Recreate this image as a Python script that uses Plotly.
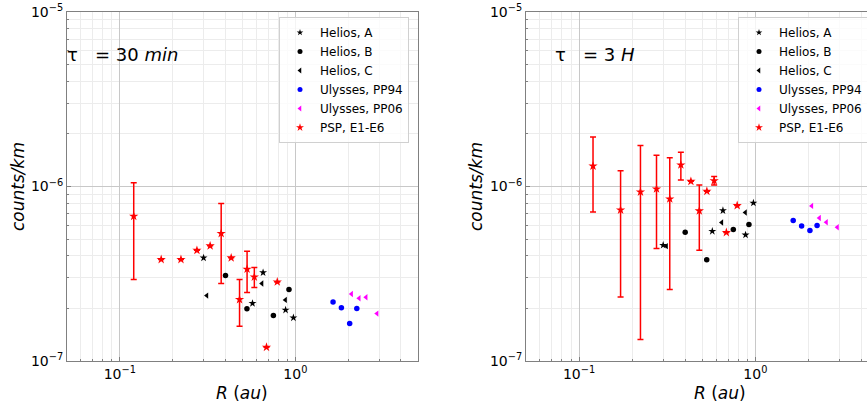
import math
import plotly.graph_objects as go

# ---------------- data ----------------
psp_r = [0.120, 0.172, 0.223, 0.275, 0.327, 0.378, 0.431, 0.481, 0.531, 0.584, 0.789, 0.685]

# tau = 30 min
psp30 = [6.76e-7, 3.82e-7, 3.82e-7, 4.31e-7, 4.57e-7, 5.38e-7, 3.90e-7, 2.25e-7, 3.36e-7, 3.03e-7, 2.84e-7, 1.20e-7]
psp30_hi = [1.05e-6, 3.82e-7, 3.82e-7, 4.31e-7, 4.57e-7, 7.99e-7, 3.90e-7, 2.93e-7, 4.26e-7, 3.43e-7, 2.84e-7, 1.20e-7]
psp30_lo = [2.93e-7, 3.82e-7, 3.82e-7, 4.31e-7, 4.57e-7, 2.78e-7, 3.90e-7, 1.58e-7, 2.47e-7, 2.64e-7, 2.84e-7, 1.20e-7]

helA_r = [0.30, 0.57, 0.655, 0.88, 0.975]
helA30 = [3.90e-7, 2.14e-7, 3.21e-7, 1.96e-7, 1.77e-7]
helB_r = [0.40, 0.53, 0.75, 0.92]
helB30 = [3.09e-7, 1.99e-7, 1.82e-7, 2.57e-7]
helC_r = [0.313, 0.645, 0.878]
helC30 = [2.37e-7, 2.78e-7, 2.24e-7]
uly94_r = [1.64, 1.83, 2.04, 2.24]
uly94_30 = [2.18e-7, 2.02e-7, 1.64e-7, 2.00e-7]
uly06_r = [2.09, 2.31, 2.53, 2.92]
uly06_30 = [2.42e-7, 2.29e-7, 2.32e-7, 1.87e-7]

# tau = 3 H
psp3h = [1.31e-6, 7.34e-7, 9.31e-7, 9.69e-7, 8.49e-7, 1.33e-6, 1.07e-6, 7.25e-7, 9.40e-7, 1.08e-6, 7.78e-7, 5.45e-7]
psp3h_hi = [1.92e-6, 1.23e-6, 1.72e-6, 1.51e-6, 1.46e-6, 1.57e-6, 1.07e-6, 1.02e-6, 9.40e-7, 1.14e-6, 7.78e-7, 5.45e-7]
psp3h_lo = [7.15e-7, 2.33e-7, 1.33e-7, 4.41e-7, 2.57e-7, 1.09e-6, 1.07e-6, 4.31e-7, 9.40e-7, 1.02e-6, 7.78e-7, 5.45e-7]
helA3h = [4.61e-7, 5.54e-7, 7.28e-7, 5.28e-7, 8.05e-7]
helB3h = [5.47e-7, 3.80e-7, 5.67e-7, 6.05e-7]
helC3h = [4.55e-7, 6.22e-7, 7.10e-7]
uly94_3h = [6.38e-7, 5.94e-7, 5.60e-7, 5.98e-7]
uly06_3h = [7.74e-7, 6.60e-7, 6.24e-7, 5.84e-7]

x_tickvals = [0.1, 1]
x_ticktext = ["10<sup>−1</sup>", "10<sup>0</sup>"]
y_tickvals = [1e-7, 1e-6, 1e-5]
y_ticktext = ["10<sup>−7</sup>", "10<sup>−6</sup>", "10<sup>−5</sup>"]

W, H = 867, 405
FONT = "DejaVu Sans"
FRAME = "#808080"

series_style = [
    ("Helios, A", "star", "black", 6),
    ("Helios, B", "circle", "black", 5.5),
    ("Helios, C", "triangle-left", "black", 5.5),
    ("Ulysses, PP94", "circle", "blue", 5.5),
    ("Ulysses, PP06", "triangle-left", "magenta", 5.5),
    ("PSP, E1-E6", "star", "red", 7),
]

fig = go.Figure()

def add_panel(xa, ya, leg, psp, hi, lo, a, b, c, u94, u06):
    xs = [helA_r, helB_r, helC_r, uly94_r, uly06_r]
    ys = [a, b, c, u94, u06]
    for (name, sym, col, sz), xv, yv in zip(series_style[:5], xs, ys):
        fig.add_trace(go.Scatter(x=xv, y=yv, name=name, mode="markers", xaxis=xa, yaxis=ya,
                                 showlegend=False, marker=dict(symbol=sym, color=col, size=sz)))
    eplus = [h - v for h, v in zip(hi, psp)]
    eminus = [v - l for l, v in zip(lo, psp)]
    name, sym, col, sz = series_style[5]
    fig.add_trace(go.Scatter(x=psp_r, y=psp, name=name, mode="markers", xaxis=xa, yaxis=ya,
                             showlegend=False, marker=dict(symbol=sym, color=col, size=sz),
                             error_y=dict(type="data", symmetric=False, array=eplus, arrayminus=eminus,
                                          color="red", thickness=1.5, width=3)))
    # legend entries (small markers as in the reference legend)
    for name, sym, col, sz in series_style:
        fig.add_trace(go.Scatter(x=[None], y=[None], name=name, mode="markers", xaxis=xa, yaxis=ya,
                                 legend=leg, showlegend=True,
                                 marker=dict(symbol=sym, color=col, size=5 if name != "PSP, E1-E6" else 6)))

add_panel("x", "y", "legend", psp30, psp30_hi, psp30_lo, helA30, helB30, helC30, uly94_30, uly06_30)
add_panel("x2", "y2", "legend2", psp3h, psp3h_hi, psp3h_lo, helA3h, helB3h, helC3h, uly94_3h, uly06_3h)

def axis_common():
    return dict(type="log", ticks="inside", ticklen=4, tickcolor=FRAME,
                showline=True, linecolor=FRAME, linewidth=1, automargin=False,
                showgrid=True, gridcolor="#c8c8c8", gridwidth=1, zeroline=False,
                tickfont=dict(family=FONT, size=14, color="black"),
                minor=dict(dtick="D1", showgrid=True, gridcolor="#ececec", ticks="inside",
                           ticklen=2, tickcolor=FRAME))

def xaxis(domain, rng, anchor):
    d = axis_common()
    d.update(domain=domain, range=[math.log10(rng[0]), math.log10(rng[1])], anchor=anchor,
             tickvals=x_tickvals, ticktext=x_ticktext, mirror=True)
    return d

def yaxis(domain, anchor, mirror):
    d = axis_common()
    d.update(domain=domain, range=[-7, -5], anchor=anchor,
             tickvals=y_tickvals, ticktext=y_ticktext, mirror=mirror)
    return d

ydom = [1 - 361 / H, 1 - 12 / H]
leg_common = dict(xanchor="left", yanchor="top", bgcolor="rgba(255,255,255,0.8)",
                  bordercolor="#d0d0d0", borderwidth=1, tracegroupgap=0,
                  font=dict(family=FONT, size=12, color="black"))
fig.update_layout(
    width=W, height=H, margin=dict(l=0, r=0, t=0, b=0, autoexpand=False),
    paper_bgcolor="white", plot_bgcolor="white",
    font=dict(family=FONT, color="black"),
    xaxis=xaxis([67 / W, 418 / W], [0.05, 5.0], "y"),
    yaxis=yaxis(ydom, "x", True),
    xaxis2=xaxis([526 / W, 1.0], [0.05, 4.3], "y2"),
    yaxis2=yaxis(ydom, "x2", False),
    legend=dict(x=279 / W, y=1 - 17 / H, **leg_common),
    legend2=dict(x=738 / W, y=1 - 17 / H, **leg_common),
)

ann_font = dict(family=FONT, size=18, color="black")
fig.add_annotation(x=65 / W, y=1 - 55 / H, xref="paper", yref="paper", xanchor="left", yanchor="middle",
                   text="τ\u00a0\u00a0\u00a0= 30 <i>min</i>", showarrow=False, font=ann_font)
fig.add_annotation(x=553 / W, y=1 - 55 / H, xref="paper", yref="paper", xanchor="left", yanchor="middle",
                   text="τ\u00a0\u00a0\u00a0= 3 <i>H</i>", showarrow=False, font=ann_font)
title_font = dict(family=FONT, size=17, color="black")
for xc, yc in [(18, 187), (476, 187)]:
    fig.add_annotation(x=xc / W, y=1 - yc / H, xref="paper", yref="paper", xanchor="center", yanchor="middle",
                       text="<i>counts/km</i>", textangle=-90, showarrow=False, font=title_font)
for xc in [242, 720]:
    fig.add_annotation(x=xc / W, y=1 - 393 / H, xref="paper", yref="paper", xanchor="center", yanchor="middle",
                       text="<i>R</i> (<i>au</i>)", showarrow=False, font=title_font)

fig.write_html("out.html", config={"displayModeBar": False},
               post_script="document.body.style.margin='0';document.body.style.overflow='hidden';")
